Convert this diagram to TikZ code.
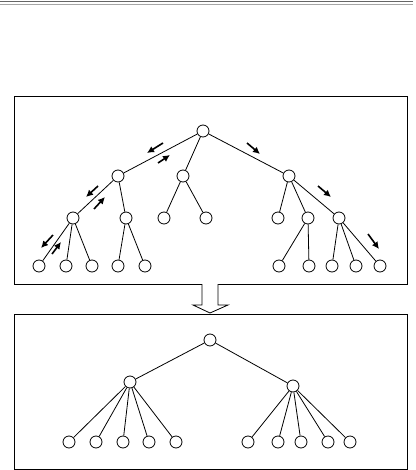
\documentclass[tikz,border=0pt]{standalone}
\usepackage{tikz}
\usetikzlibrary{arrows.meta, positioning, calc}

\begin{document}
\begin{tikzpicture}[
    x=1pt, y=-1pt,
    vertex/.style={draw, circle, line width=0.8pt, fill=white,
                   minimum size=12pt, inner sep=0pt},
    edge/.style={line width=0.8pt},
    frame/.style={draw, line width=1pt},
    walk/.style={line width=1.6pt, -{Latex[length=7pt, width=7pt]}}
]
    \useasboundingbox (0,0) rectangle (415,470);

    % double rule at the top
    \draw[gray!80!black, line width=1.2pt] (0,1.5) -- (413,1.5);
    \draw[gray!70, line width=0.6pt] (0,4.5) -- (413,4.5);

    % upper panel
    \draw[frame] (14,97) rectangle (407,284);

    \node[vertex] (root) at (203,131) {};
    \node[vertex] (a) at (118,176) {};
    \node[vertex] (b) at (183,176) {};
    \node[vertex] (c) at (289,176) {};

    \node[vertex] (a1) at (73,218) {};
    \node[vertex] (a2) at (126,218) {};
    \node[vertex] (b1) at (164,218) {};
    \node[vertex] (b2) at (206,218) {};
    \node[vertex] (c1) at (278,218) {};
    \node[vertex] (c2) at (308,218) {};
    \node[vertex] (c3) at (339,218) {};

    \node[vertex] (a11) at (39,266) {};
    \node[vertex] (a12) at (66,266) {};
    \node[vertex] (a13) at (92,266) {};
    \node[vertex] (a21) at (118,266) {};
    \node[vertex] (a22) at (145,266) {};
    \node[vertex] (c21) at (279,266) {};
    \node[vertex] (c22) at (309,266) {};
    \node[vertex] (c31) at (332,266) {};
    \node[vertex] (c32) at (356,266) {};
    \node[vertex] (c33) at (380,266) {};

    \draw[edge] (root) -- (a);
    \draw[edge] (root) -- (b);
    \draw[edge] (root) -- (c);
    \draw[edge] (a) -- (a1);
    \draw[edge] (a) -- (a2);
    \draw[edge] (b) -- (b1);
    \draw[edge] (b) -- (b2);
    \draw[edge] (c) -- (c1);
    \draw[edge] (c) -- (c2);
    \draw[edge] (c) -- (c3);
    \draw[edge] (a1) -- (a11);
    \draw[edge] (a1) -- (a12);
    \draw[edge] (a1) -- (a13);
    \draw[edge] (a2) -- (a21);
    \draw[edge] (a2) -- (a22);
    \draw[edge] (c2) -- (c21);
    \draw[edge] (c2) -- (c22);
    \draw[edge] (c3) -- (c31);
    \draw[edge] (c3) -- (c32);
    \draw[edge] (c3) -- (c33);

    % search moves along the edges
    \coordinate (d1s) at (163,143); \coordinate (d1e) at (147,153);
    \coordinate (u1s) at (158,163); \coordinate (u1e) at (170,155);
    \coordinate (d2s) at (98,186);  \coordinate (d2e) at (86,197);
    \coordinate (u2s) at (94,209);  \coordinate (u2e) at (105,197);
    \coordinate (d3s) at (53,235);  \coordinate (d3e) at (41,248);
    \coordinate (u3s) at (52,254);  \coordinate (u3e) at (61,242);
    \coordinate (r1s) at (247,143); \coordinate (r1e) at (260,154);
    \coordinate (r2s) at (318,186); \coordinate (r2e) at (331,197);
    \coordinate (r3s) at (368,234); \coordinate (r3e) at (379,249);

    \draw[walk] (d1s) -- (d1e);
    \draw[walk] (u1s) -- (u1e);
    \draw[walk] (d2s) -- (d2e);
    \draw[walk] (u2s) -- (u2e);
    \draw[walk] (d3s) -- (d3e);
    \draw[walk] (u3s) -- (u3e);
    \draw[walk] (r1s) -- (r1e);
    \draw[walk] (r2s) -- (r2e);
    \draw[walk] (r3s) -- (r3e);

    % hollow block arrow
    \draw[line width=0.8pt, fill=white]
        (202,284) -- (202,305) -- (193,305) -- (210,313)
        -- (228,305) -- (218,305) -- (218,284);

    % lower panel
    \draw[frame] (14,314) rectangle (407,469);

    \node[vertex] (top) at (210,340) {};
    \node[vertex] (left) at (130,382) {};
    \node[vertex] (right) at (293,386) {};

    \node[vertex] (l1) at (69,442) {};
    \node[vertex] (l2) at (96,442) {};
    \node[vertex] (l3) at (123,442) {};
    \node[vertex] (l4) at (149,442) {};
    \node[vertex] (l5) at (176,442) {};
    \node[vertex] (r1) at (248,442) {};
    \node[vertex] (r2) at (278,442) {};
    \node[vertex] (r3) at (301,442) {};
    \node[vertex] (r4) at (328,442) {};
    \node[vertex] (r5) at (350,442) {};

    \draw[edge] (top) -- (left);
    \draw[edge] (top) -- (right);
    \draw[edge] (left) -- (l1);
    \draw[edge] (left) -- (l2);
    \draw[edge] (left) -- (l3);
    \draw[edge] (left) -- (l4);
    \draw[edge] (left) -- (l5);
    \draw[edge] (right) -- (r1);
    \draw[edge] (right) -- (r2);
    \draw[edge] (right) -- (r3);
    \draw[edge] (right) -- (r4);
    \draw[edge] (right) -- (r5);
\end{tikzpicture}
\end{document}
